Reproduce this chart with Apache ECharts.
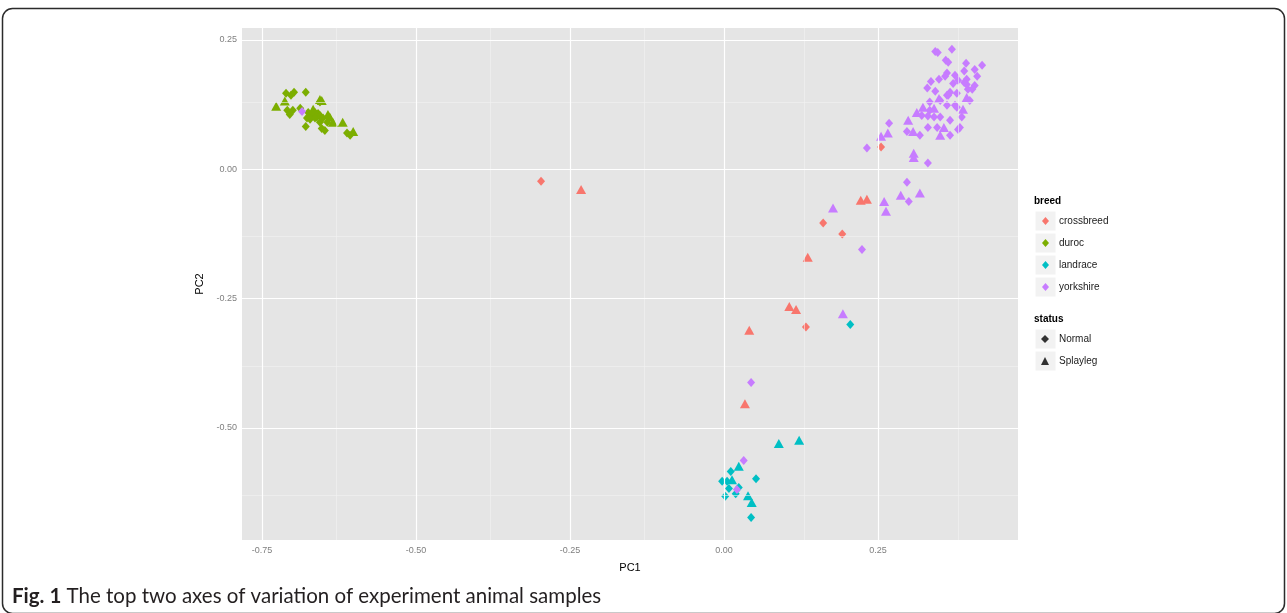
<!DOCTYPE html>
<html>
<head>
<meta charset="utf-8">
<script src="https://cdn.jsdelivr.net/npm/echarts@6/dist/echarts.min.js"></script>
<style>
html,body{margin:0;padding:0;background:#fff;}
#chart{width:1287px;height:613px;}
</style>
</head>
<body>
<div id="chart"></div>
<script>
// ---- data (PC1, PC2) ----
const breeds = ['crossbreed', 'duroc', 'landrace', 'yorkshire'];
const statuses = ['Normal', 'Splayleg'];

const crossbreedNormal = [[-0.297,-0.023],[0.255,0.043],[0.161,-0.104],[0.192,-0.125],[0.133,-0.305]];
const crossbreedSplayleg = [[-0.232,-0.039],[0.222,-0.060],[0.232,-0.058],[0.136,-0.170],[0.106,-0.265],[0.117,-0.271],[0.041,-0.311],[0.034,-0.453]];

const durocNormal = [[-0.711,0.147],[-0.703,0.143],[-0.698,0.149],[-0.679,0.149],[-0.709,0.114],[-0.705,0.106],[-0.700,0.114],[-0.688,0.118],[-0.675,0.110],[-0.664,0.110],[-0.669,0.104],[-0.661,0.101],[-0.656,0.104],[-0.672,0.097],[-0.677,0.099],[-0.651,0.099],[-0.644,0.091],[-0.656,0.091],[-0.679,0.083],[-0.653,0.079],[-0.648,0.075],[-0.612,0.070],[-0.607,0.066],[-0.656,0.130],[-0.659,0.108],[-0.664,0.099]];
const durocSplayleg = [[-0.727,0.122],[-0.713,0.132],[-0.667,0.116],[-0.656,0.135],[-0.653,0.133],[-0.643,0.106],[-0.640,0.101],[-0.635,0.091],[-0.619,0.091],[-0.602,0.073]];

const landraceNormal = [[0.205,-0.300],[0.011,-0.584],[0.052,-0.598],[-0.003,-0.603],[0.005,-0.603],[0.008,-0.617],[0.024,-0.615],[0.019,-0.627],[0.002,-0.632],[0.044,-0.673]];
const landraceSplayleg = [[0.089,-0.530],[0.122,-0.524],[0.024,-0.574],[0.013,-0.600],[0.039,-0.631],[0.045,-0.644]];

const yorkshireNormal = [[0.044,-0.412],[0.032,-0.563],[0.021,-0.619],[-0.685,0.112],[0.224,-0.155],[0.300,-0.062],[0.297,-0.025],[0.232,0.041],[0.268,0.089],[0.331,0.012],[0.297,0.073],[0.318,0.066],[0.331,0.081],[0.346,0.081],[0.367,0.066],[0.380,0.077],[0.383,0.081],[0.367,0.095],[0.321,0.104],[0.334,0.114],[0.331,0.103],[0.341,0.101],[0.351,0.101],[0.362,0.124],[0.375,0.124],[0.378,0.120],[0.334,0.130],[0.351,0.133],[0.362,0.143],[0.378,0.147],[0.367,0.149],[0.396,0.155],[0.407,0.162],[0.394,0.164],[0.343,0.151],[0.330,0.157],[0.372,0.166],[0.380,0.172],[0.375,0.182],[0.362,0.186],[0.349,0.174],[0.336,0.170],[0.394,0.174],[0.411,0.180],[0.390,0.190],[0.407,0.193],[0.419,0.201],[0.393,0.205],[0.360,0.211],[0.364,0.207],[0.370,0.232],[0.343,0.228],[0.347,0.226],[0.364,0.143],[0.403,0.155],[0.359,0.180],[0.390,0.168],[0.399,0.133],[0.386,0.101]];
const yorkshireSplayleg = [[0.193,-0.279],[0.177,-0.075],[0.260,-0.062],[0.263,-0.081],[0.287,-0.050],[0.318,-0.046],[0.255,0.064],[0.266,0.070],[0.308,0.031],[0.308,0.023],[0.299,0.095],[0.307,0.073],[0.357,0.081],[0.351,0.066],[0.313,0.110],[0.323,0.120],[0.341,0.118],[0.388,0.116],[0.349,0.137],[0.394,0.139]];

// ---- axes ----
const xTicks = [-0.75, -0.50, -0.25, 0.00, 0.25];
const xMinorTicks = [-0.625, -0.375, -0.125, 0.125, 0.375];
const yTicks = [0.25, 0.00, -0.25, -0.50];
const yMinorTicks = [0.125, -0.125, -0.375, -0.625];
const xRange = [-0.7825, 0.4773];
const yRange = [-0.7166, 0.2732];

const colors = { crossbreed: '#F8766D', duroc: '#7CAE00', landrace: '#00BFC4', yorkshire: '#C77CFF' };
const shapes = { Normal: 'diamond', Splayleg: 'triangle' };
const sizes = { Normal: [8, 9], Splayleg: [10, 9] };

const dataSets = {
  crossbreed: { Normal: crossbreedNormal, Splayleg: crossbreedSplayleg },
  duroc: { Normal: durocNormal, Splayleg: durocSplayleg },
  landrace: { Normal: landraceNormal, Splayleg: landraceSplayleg },
  yorkshire: { Normal: yorkshireNormal, Splayleg: yorkshireSplayleg }
};

const series = [];
// grid lines
series.push({
  type: 'scatter', data: [], silent: true, z: 1,
  markLine: {
    silent: true, symbol: ['none', 'none'], animation: false,
    label: { show: false },
    emphasis: { disabled: true },
    data: [
      ...xMinorTicks.map(v => ({ xAxis: v, lineStyle: { color: '#F2F2F2', width: 0.6, type: 'solid' } })),
      ...yMinorTicks.map(v => ({ yAxis: v, lineStyle: { color: '#F2F2F2', width: 0.6, type: 'solid' } })),
      ...xTicks.map(v => ({ xAxis: v, lineStyle: { color: '#FFFFFF', width: 1.2, type: 'solid' } })),
      ...yTicks.map(v => ({ yAxis: v, lineStyle: { color: '#FFFFFF', width: 1.2, type: 'solid' } }))
    ]
  }
});
breeds.forEach(b => {
  statuses.forEach(s => {
    series.push({
      name: b, type: 'scatter', z: 3,
      symbol: shapes[s], symbolSize: sizes[s],
      itemStyle: { color: colors[b], opacity: 1 },
      data: dataSets[b][s]
    });
  });
});
statuses.forEach(s => {
  series.push({ name: s, type: 'scatter', data: [], symbol: shapes[s], itemStyle: { color: '#000' } });
});

const axisLabelStyle = { color: '#7F7F7F', fontSize: 9, fontFamily: 'Liberation Sans' };
const legendText = { fontSize: 10, lineHeight: 12, color: '#1a1a1a', fontFamily: 'Liberation Sans', padding: [0, 0, 0, 5] };

const option = {
  animation: false,
  backgroundColor: '#fff',
  grid: { left: 242, right: 269, top: 28, bottom: 73, show: true, backgroundColor: '#E5E5E5', borderWidth: 0 },
  xAxis: {
    type: 'value', min: xRange[0], max: xRange[1],
    name: 'PC1', nameLocation: 'middle', nameGap: 22,
    nameTextStyle: { color: '#000', fontSize: 11, fontFamily: 'Liberation Sans' },
    axisLine: { show: false },
    axisTick: { show: true, customValues: xTicks, length: 4, lineStyle: { color: '#7F7F7F', width: 1 } },
    axisLabel: Object.assign({ customValues: xTicks, margin: 6, formatter: v => v.toFixed(2) }, axisLabelStyle),
    splitLine: { show: false }
  },
  yAxis: {
    type: 'value', min: yRange[0], max: yRange[1],
    name: 'PC2', nameLocation: 'middle', nameGap: 33, nameRotate: 90,
    nameTextStyle: { color: '#000', fontSize: 11, fontFamily: 'Liberation Sans' },
    axisLine: { show: false },
    axisTick: { show: true, customValues: yTicks, length: 4, lineStyle: { color: '#7F7F7F', width: 1 } },
    axisLabel: Object.assign({ customValues: yTicks, margin: 5, formatter: v => v.toFixed(2) }, axisLabelStyle),
    splitLine: { show: false }
  },
  legend: [
    {
      data: breeds.map(b => ({ name: b, icon: 'diamond' })),
      orient: 'vertical', left: 1042, top: 215, padding: 0,
      itemWidth: 7, itemHeight: 8, itemGap: 10,
      selectedMode: false,
      textStyle: legendText
    },
    {
      data: statuses.map(s => ({ name: s, icon: shapes[s] })),
      orient: 'vertical', left: 1041, top: 333, padding: 0,
      itemWidth: 8, itemHeight: 8, itemGap: 10,
      selectedMode: false,
      textStyle: legendText
    }
  ],
  graphic: [
    { type: 'rect', shape: { x: 2.5, y: 8.5, width: 1282, height: 605, r: 10 }, style: { fill: 'none', stroke: '#2b2b2b', lineWidth: 1.5 }, silent: true },
    ...[0, 1, 2, 3].map(i => ({ type: 'rect', shape: { x: 1035, y: 211 + 22 * i, width: 21, height: 20 }, style: { fill: '#F2F2F2', stroke: '#fff', lineWidth: 1 }, silent: true })),
    ...[0, 1].map(i => ({ type: 'rect', shape: { x: 1035, y: 329 + 22 * i, width: 21, height: 20 }, style: { fill: '#F2F2F2', stroke: '#fff', lineWidth: 1 }, silent: true })),
    { type: 'text', left: 1034, top: 196, style: { text: 'breed', fontSize: 10, fontWeight: 'bold', fill: '#000', fontFamily: 'Liberation Sans' } },
    { type: 'text', left: 1034, top: 314, style: { text: 'status', fontSize: 10, fontWeight: 'bold', fill: '#000', fontFamily: 'Liberation Sans' } },
    { type: 'text', left: 12, top: 586, style: {
        text: '{b|Fig. 1} The top two axes of variation of experiment animal samples',
        fontSize: 20.5, fill: '#231f20', fontFamily: 'Lato',
        rich: { b: { fontWeight: 'bold', fontSize: 20.5, fontFamily: 'Lato', fill: '#231f20' } }
      } }
  ],
  series: series
};

const chart = echarts.init(document.getElementById('chart'), null, { renderer: 'canvas' });
chart.setOption(option);
</script>
</body>
</html>
